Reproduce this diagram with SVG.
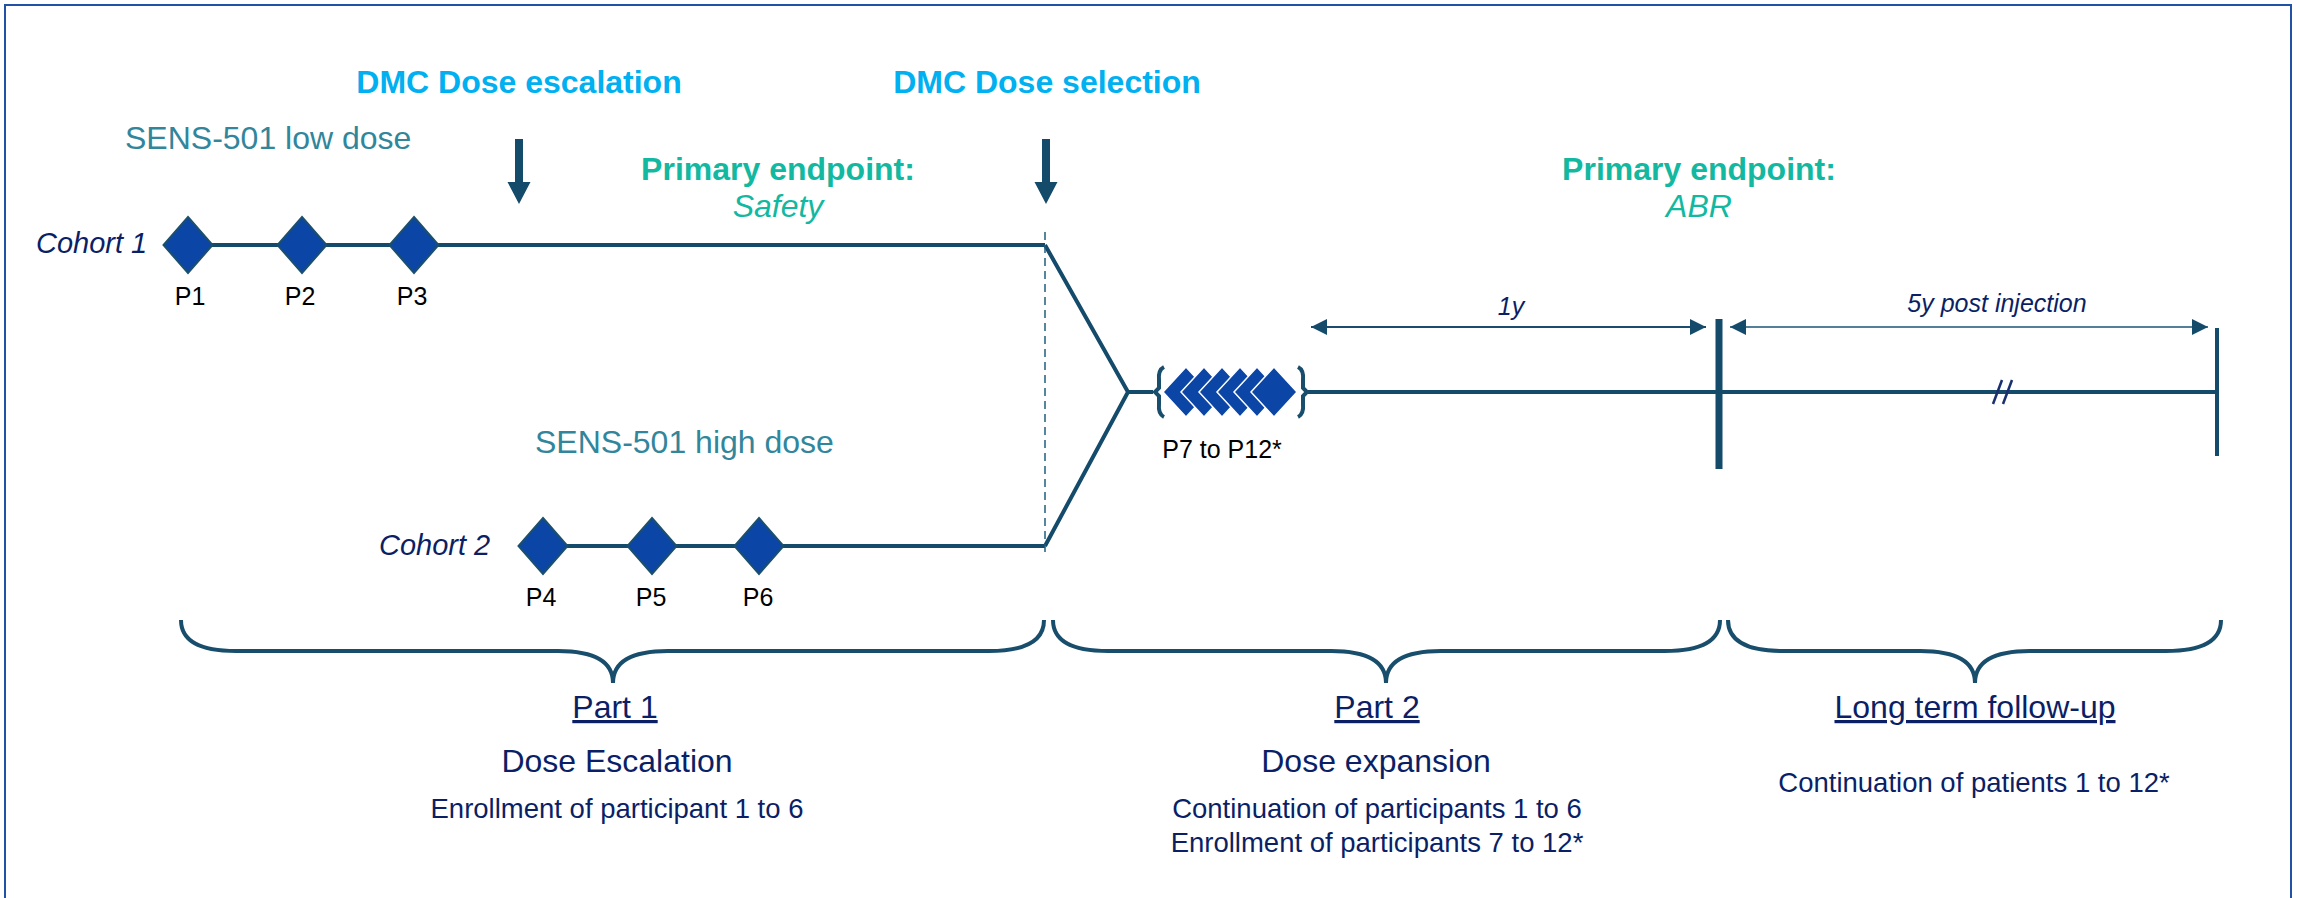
<svg xmlns="http://www.w3.org/2000/svg" width="2300" height="898" viewBox="0 0 2300 898">
<style>
  .t { font-family: "Liberation Sans", Arial, sans-serif; }
  .dmc { font-weight: bold; font-size: 32px; fill: #00B0F0; text-anchor: middle; }
  .sens { font-size: 32px; fill: #31869B; }
  .pe { font-weight: bold; font-size: 32px; fill: #12B8A0; text-anchor: middle; }
  .pei { font-style: italic; font-size: 32px; fill: #12B8A0; text-anchor: middle; }
  .coh { font-style: italic; font-size: 29px; fill: #0B1F66; }
  .plab { font-size: 25px; fill: #000000; text-anchor: middle; }
  .dim { font-style: italic; font-size: 25px; fill: #0B1F66; text-anchor: middle; }
  .head { font-size: 32px; fill: #0B1F66; text-anchor: middle; }
  .ul { text-decoration: underline; }
  .sub { font-size: 27.5px; fill: #0B1F66; text-anchor: middle; }
  .ln { stroke: #144B6B; stroke-width: 4; fill: none; }
  .dia { fill: #0B45A6; stroke: #1B4F6E; stroke-width: 2; }
  .dia2 { fill: #0B45A6; stroke: #ffffff; stroke-width: 1.5; }
  .brace { stroke: #184E6C; stroke-width: 4; fill: none; }
  .darr { fill: #144A6A; }
</style>
<defs>
  <marker id="ah" markerUnits="userSpaceOnUse" markerWidth="16" markerHeight="16" viewBox="0 0 15 15" refX="15" refY="7.5" orient="auto-start-reverse">
    <path d="M0,0 L15,7.5 L0,15 Z" fill="#144A6A"/>
  </marker>
</defs>

<!-- frame -->
<rect x="5" y="5" width="2286" height="920" fill="none" stroke="#2152A6" stroke-width="2"/>

<!-- header labels -->
<g id="dmc-escalation">
  <text class="t dmc" x="519" y="93">DMC Dose escalation</text>
  <path class="darr" d="M515,139 L523,139 L523,182 L530.5,182 L519,204 L507.5,182 L515,182 Z"/>
</g>
<g id="dmc-selection">
  <text class="t dmc" x="1047" y="93">DMC Dose selection</text>
  <path class="darr" d="M1042,139 L1050,139 L1050,182 L1057.5,182 L1046,204 L1034.5,182 L1042,182 Z"/>
</g>
<g id="primary-safety">
  <text class="t pe" x="778" y="180">Primary endpoint:</text>
  <text class="t pei" x="778" y="217">Safety</text>
</g>
<g id="primary-abr">
  <text class="t pe" x="1699" y="180">Primary endpoint:</text>
  <text class="t pei" x="1699" y="217">ABR</text>
</g>
<g id="sens-low"><text class="t sens" x="125" y="149">SENS-501 low dose</text></g>
<g id="sens-high"><text class="t sens" x="535" y="453">SENS-501 high dose</text></g>

<!-- connectors -->
<g id="connectors">
  <line class="ln" x1="188" y1="245" x2="1045" y2="245"/>
  <line class="ln" x1="543" y1="546" x2="1045" y2="546"/>
  <polyline class="ln" points="1045,245 1128,392 1045,546" stroke-linejoin="miter"/>
  <line class="ln" x1="1128" y1="392" x2="1153" y2="392"/>
  <line class="ln" x1="1308" y1="392" x2="2217" y2="392"/>
  <line x1="1045" y1="232" x2="1045" y2="557" stroke="#1F5F7F" stroke-width="1.5" stroke-dasharray="8,5"/>
  <line x1="1719" y1="319" x2="1719" y2="469" stroke="#144B6B" stroke-width="7"/>
  <line x1="2217" y1="328" x2="2217" y2="456" stroke="#144B6B" stroke-width="4"/>
  <line x1="1993" y1="404" x2="2002" y2="380" stroke="#1A2F70" stroke-width="2.5"/>
  <line x1="2003" y1="404" x2="2012" y2="380" stroke="#1A2F70" stroke-width="2.5"/>
  <line x1="1311" y1="327" x2="1706" y2="327" stroke="#1A4D6D" stroke-width="2" marker-start="url(#ah)" marker-end="url(#ah)"/>
  <line x1="1730" y1="327" x2="2208" y2="327" stroke="#557F99" stroke-width="2" marker-start="url(#ah)" marker-end="url(#ah)"/>
</g>

<g id="dim-1y"><text class="t dim" x="1511" y="315">1y</text></g>
<g id="dim-5y"><text class="t dim" x="1997" y="312">5y post injection</text></g>

<!-- cohort 1 -->
<g id="cohort1"><text class="t coh" x="36" y="253">Cohort 1</text></g>
<g id="p1"><path class="dia" d="M188,217 L212.5,245 L188,273 L163.5,245 Z"/><text class="t plab" x="190" y="305">P1</text></g>
<g id="p2"><path class="dia" d="M302,217 L326.5,245 L302,273 L277.5,245 Z"/><text class="t plab" x="300" y="305">P2</text></g>
<g id="p3"><path class="dia" d="M414,217 L438.5,245 L414,273 L389.5,245 Z"/><text class="t plab" x="412" y="305">P3</text></g>

<!-- cohort 2 -->
<g id="cohort2"><text class="t coh" x="379" y="555">Cohort 2</text></g>
<g id="p4"><path class="dia" d="M543,518 L567.5,546 L543,574 L518.5,546 Z"/><text class="t plab" x="541" y="606">P4</text></g>
<g id="p5"><path class="dia" d="M652,518 L676.5,546 L652,574 L627.5,546 Z"/><text class="t plab" x="651" y="606">P5</text></g>
<g id="p6"><path class="dia" d="M759,518 L783.5,546 L759,574 L734.5,546 Z"/><text class="t plab" x="758" y="606">P6</text></g>

<!-- P7 to P12 -->
<g id="p7-p12">
  <path class="brace" stroke-width="3" d="M1164,367 Q1158,370 1159,380 L1159,388 L1155,392 L1159,396 L1159,404 Q1158,414 1164,417"/>
  <path class="dia2" d="M1186,367 L1209,392 L1186,417 L1163,392 Z"/>
  <path class="dia2" d="M1204,367 L1227,392 L1204,417 L1181,392 Z"/>
  <path class="dia2" d="M1222,367 L1245,392 L1222,417 L1199,392 Z"/>
  <path class="dia2" d="M1240,367 L1263,392 L1240,417 L1217,392 Z"/>
  <path class="dia2" d="M1257,367 L1280,392 L1257,417 L1234,392 Z"/>
  <path class="dia2" d="M1274,367 L1297,392 L1274,417 L1251,392 Z"/>
  <path class="brace" stroke-width="3" d="M1298,367 Q1304,370 1303,380 L1303,388 L1307,392 L1303,396 L1303,404 Q1304,414 1298,417"/>
  <text class="t plab" x="1222" y="458">P7 to P12*</text>
</g>

<!-- braces -->
<g id="brace-part1"><path class="brace" d="M181,620 Q181,651 236,651 L558,651 Q613,651 613,683 Q613,651 668,651 L989,651 Q1044,651 1044,620"/></g>
<g id="brace-part2"><path class="brace" d="M1053,620 Q1053,651 1108,651 L1331,651 Q1386,651 1386,683 Q1386,651 1441,651 L1665,651 Q1720,651 1720,620"/></g>
<g id="brace-ltfu"><path class="brace" d="M1728,620 Q1728,651 1783,651 L1920,651 Q1975,651 1975,683 Q1975,651 2030,651 L2166,651 Q2221,651 2221,620"/></g>

<!-- bottom labels -->
<g id="part1">
  <text class="t head ul" x="615" y="718">Part 1</text>
  <text class="t head" x="617" y="772">Dose Escalation</text>
  <text class="t sub" x="617" y="818">Enrollment of participant 1 to 6</text>
</g>
<g id="part2">
  <text class="t head ul" x="1377" y="718">Part 2</text>
  <text class="t head" x="1376" y="772">Dose expansion</text>
  <text class="t sub" x="1377" y="818">Continuation of participants 1 to 6</text>
  <text class="t sub" x="1377" y="852">Enrollment of participants 7 to 12*</text>
</g>
<g id="ltfu">
  <text class="t head ul" x="1975" y="718">Long term follow-up</text>
  <text class="t sub" x="1974" y="792">Continuation of patients 1 to 12*</text>
</g>
</svg>
